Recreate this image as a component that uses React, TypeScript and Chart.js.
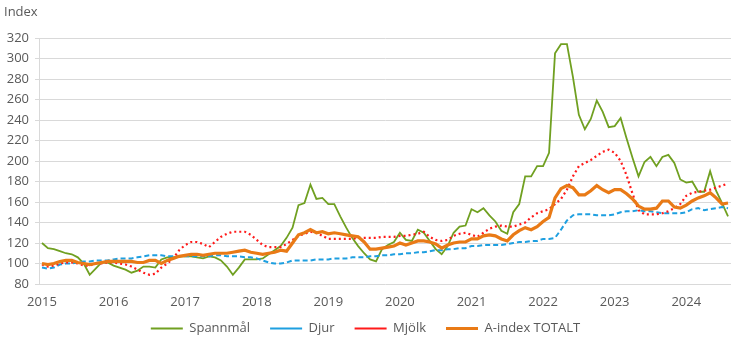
import React, { useEffect, useRef } from "react";
import { Chart, registerables } from "chart.js";

Chart.register(...registerables);

const years = ["2015", "2016", "2017", "2018", "2019", "2020", "2021", "2022", "2023", "2024"];
const monthsInLastYear = 8;

const spannmal = [
  120, 115, 114, 112, 110, 109, 106, 100, 89, 95, 101, 101,
  98, 96, 94, 91, 93, 97, 97, 96, 104, 106, 106, 107,
  107, 107, 106, 105, 107, 106, 103, 97, 89, 96, 104, 104,
  104, 105, 109, 113, 117, 125, 135, 157, 159, 177, 163, 164,
  158, 158, 146, 135, 125, 117, 110, 104, 102, 114, 118, 121,
  130, 123, 122, 133, 130, 122, 114, 109, 117, 130, 136, 137,
  153, 150, 154, 147, 141, 132, 129, 150, 158, 185, 185, 195,
  195, 208, 305, 314, 314, 282, 245, 231, 241, 259, 248, 233,
  234, 242, 222, 203, 185, 199, 204, 195, 204, 206, 198, 182,
  179, 180, 170, 170, 190, 171, 159, 146,
];

const djur = [
  96, 95, 96, 99, 100, 100, 101, 102, 102, 103, 103, 103,
  104, 105, 105, 105, 106, 107, 108, 108, 108, 107, 107, 107,
  107, 107, 107, 107, 107, 108, 108, 107, 107, 107, 106, 106,
  105, 103, 101, 100, 100, 101, 103, 103, 103, 103, 104, 104,
  104, 105, 105, 105, 106, 106, 106, 107, 107, 108, 108, 109,
  109, 110, 110, 111, 111, 112, 113, 113, 114, 114, 115, 115,
  117, 117, 118, 118, 118, 118, 119, 120, 121, 121, 122, 122,
  124, 124, 125, 133, 142, 147, 148, 148, 148, 147, 147, 147,
  148, 150, 151, 151, 152, 151, 151, 150, 149, 149, 149, 149,
  150, 153, 154, 152, 153, 154, 155, 154,
];

const mjolk = [
  99, 97, 98, 100, 101, 101, 100, 98, 98, 100, 100, 101,
  101, 100, 99, 97, 94, 91, 89, 90, 96, 100, 105, 113,
  118, 121, 121, 119, 116, 121, 126, 129, 131, 131, 131, 128,
  123, 118, 116, 116, 116, 119, 123, 127, 129, 131, 130, 127,
  124, 124, 124, 124, 124, 125, 125, 125, 125, 126, 126, 126,
  127, 127, 128, 129, 131, 126, 123, 122, 123, 127, 129, 130,
  128, 126, 130, 134, 136, 137, 136, 136, 138, 140, 145, 149,
  151, 153, 158, 163, 172, 185, 195, 198, 201, 205, 209, 211,
  208, 200, 186, 168, 152, 148, 148, 148, 149, 151, 154, 158,
  166, 169, 170, 171, 172, 174, 176, 178,
];

const aIndex = [
  100, 99, 100, 102, 103, 103, 101, 100, 99, 100, 101, 102,
  102, 102, 102, 102, 101, 101, 103, 103, 100, 103, 105, 107,
  108, 109, 109, 108, 109, 110, 110, 110, 111, 112, 113, 111,
  110, 109, 110, 111, 113, 112, 120, 128, 130, 133, 130, 131,
  129, 130, 129, 128, 127, 126, 121, 114, 114, 115, 116, 117,
  120, 118, 120, 122, 122, 121, 119, 115, 118, 120, 121, 121,
  124, 124, 127, 128, 127, 124, 122, 128, 132, 135, 133, 136,
  141, 145, 164, 173, 176, 174, 167, 167, 171, 176, 172, 169,
  172, 172, 168, 163, 156, 153, 153, 154, 161, 161, 155, 154,
  157, 161, 164, 166, 169, 164, 158, 159,
];

const seriesNames = ["Spannmål", "Djur", "Mjölk", "A-index TOTALT"];
const yTitle = "Index";

const monthLabels: string[] = [];
years.forEach((y, yi) => {
  const n = yi === years.length - 1 ? monthsInLastYear : 12;
  for (let m = 1; m <= n; m++) monthLabels.push(`${y}-${String(m).padStart(2, "0")}`);
});

const TEXT = "#595959";
const GRID = "#d9d9d9";
const FONT = "'Open Sans', 'Noto Sans', sans-serif";

const shiftLegend = {
  id: "shiftLegend",
  afterLayout(chart: any) {
    const lg = chart.legend;
    if (lg) {
      lg.top -= 10;
      lg.bottom -= 10;
    }
  },
};

export default function App() {
  const ref = useRef<HTMLCanvasElement | null>(null);

  useEffect(() => {
    if (!ref.current) return;
    const chart = new Chart(ref.current, {
      type: "line",
      data: {
        labels: monthLabels,
        datasets: [
          {
            label: seriesNames[0],
            data: spannmal,
            borderColor: "#70A021",
            backgroundColor: "#70A021",
            borderWidth: 1.8,
            pointRadius: 0,
            tension: 0,
            order: 3,
          },
          {
            label: seriesNames[1],
            data: djur,
            borderColor: "#1E9FE0",
            backgroundColor: "#1E9FE0",
            borderWidth: 2,
            borderDash: [5, 3],
            pointRadius: 0,
            tension: 0,
            order: 2,
          },
          {
            label: seriesNames[2],
            data: mjolk,
            borderColor: "#FF1A1A",
            backgroundColor: "#FF1A1A",
            borderWidth: 2.2,
            borderDash: [2, 3],
            pointRadius: 0,
            tension: 0,
            order: 1,
          },
          {
            label: seriesNames[3],
            data: aIndex,
            borderColor: "#E97A16",
            backgroundColor: "#E97A16",
            borderWidth: 3.2,
            pointRadius: 0,
            tension: 0,
            order: 0,
          },
        ],
      },
      plugins: [shiftLegend],
      options: {
        responsive: false,
        animation: false,
        layout: { padding: { top: 38, right: 8, left: 0, bottom: -12 } },
        plugins: {
          tooltip: { enabled: false },
          legend: {
            position: "bottom",
            labels: {
              usePointStyle: true,
              pointStyle: "line",
              pointStyleWidth: 32,
              padding: 20,
              color: TEXT,
              font: { family: FONT, size: 13 },
              sort: (a: any, b: any) => a.datasetIndex - b.datasetIndex,
            },
          },
        },
        scales: {
          x: {
            type: "category",
            offset: true,
            grid: { display: false, drawTicks: false },
            border: { display: false },
            ticks: {
              autoSkip: false,
              maxRotation: 0,
              minRotation: 0,
              padding: 10,
              color: TEXT,
              font: { family: FONT, size: 13 },
              callback: (_v: any, i: number) => (i % 12 === 0 ? monthLabels[i].slice(0, 4) : ""),
            },
            afterFit: (s: any) => {
              s.height = 28;
            },
          },
          y: {
            min: 80,
            max: 320,
            ticks: {
              stepSize: 20,
              padding: 6,
              color: TEXT,
              font: { family: FONT, size: 13 },
            },
            grid: { color: GRID, lineWidth: 1, tickLength: 4 },
            border: { color: GRID },
            afterFit: (s: any) => {
              s.width = 39;
            },
          },
        },
      },
    });
    return () => chart.destroy();
  }, []);

  return (
    <div style={{ position: "fixed", left: 0, top: 0, width: 739, height: 343, background: "#fff" }}>
      <div
        style={{
          position: "absolute",
          left: 4,
          top: 2,
          fontFamily: FONT,
          fontSize: 13,
          color: TEXT,
          lineHeight: "18px",
        }}
      >
        {yTitle}
      </div>
      <canvas ref={ref} width={739} height={343} style={{ display: "block" }} />
    </div>
  );
}
